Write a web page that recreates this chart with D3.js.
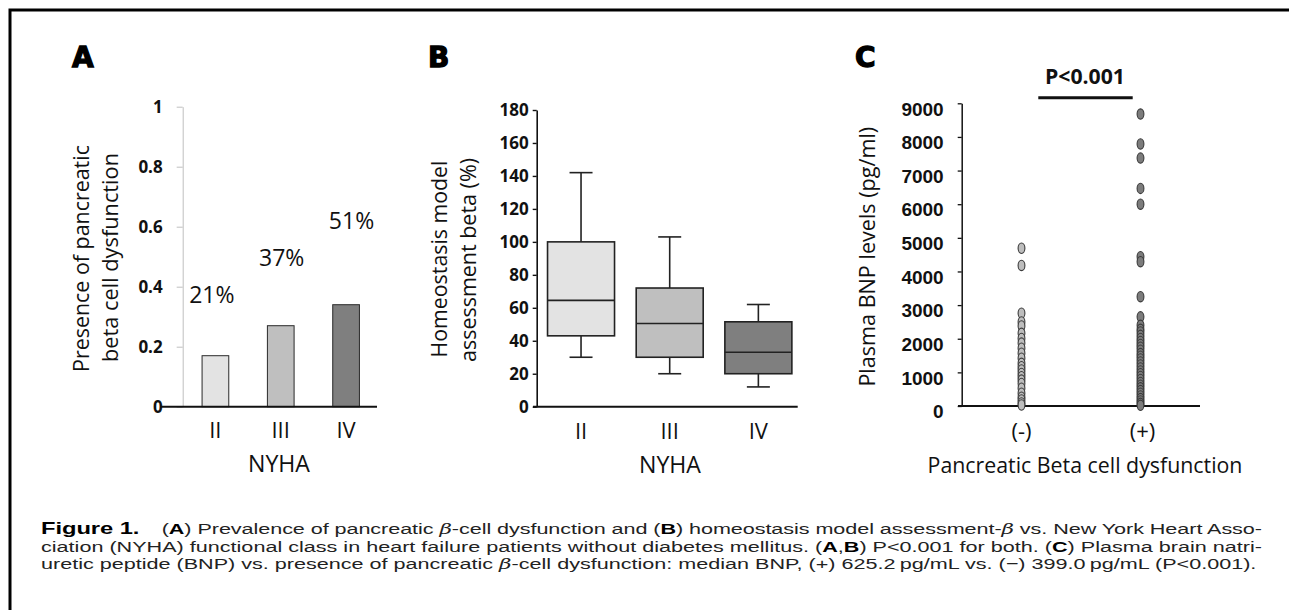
<!DOCTYPE html>
<html><head><meta charset="utf-8">
<script src="https://cdn.jsdelivr.net/npm/d3@7/dist/d3.min.js"></script>
<style>body{margin:0;background:#fff}svg{display:block}</style>
</head><body>
<svg id="c" width="1289" height="610"></svg>
<script>
// ---------------- data ----------------
const nyhaClasses = ["II", "III", "IV"];
const dysfunctionPresence = [0.17, 0.27, 0.34];
const dysfunctionPctLabels = ["21%", "37%", "51%"];
const presenceTicks = [0, 0.2, 0.4, 0.6, 0.8, 1];

const homaWhiskerLow = [30, 20, 12];
const homaQ1 = [43, 30, 20];
const homaMedian = [64.5, 50.5, 33];
const homaQ3 = [100, 72, 51.5];
const homaWhiskerHigh = [142, 103, 62];
const homaTicks = [0, 20, 40, 60, 80, 100, 120, 140, 160, 180];

const bnpGroups = ["(-)", "(+)"];
const bnpNegative = [4690, 4180, 2760, 2500, 2380, 2160, 2010, 1870, 1720, 1570, 1420, 1270, 1170, 1070, 970, 870, 770, 670, 530, 380, 260, 180, 90, 30];
const bnpPositive = [8680, 7790, 7370, 6470, 6000, 4440, 4290, 3250, 2650, 2400, 2280, 2200, 2100, 2010, 1920, 1830, 1750, 1660, 1560, 1480, 1400, 1310, 1220, 1130, 1040, 960, 880, 790, 700, 620, 540, 460, 380, 300, 220, 150, 80, 20];
const bnpTicks = [0, 1000, 2000, 3000, 4000, 5000, 6000, 7000, 8000, 9000];

// ---------------- styles ----------------
const classFills = ["#e3e3e3", "#bfbfbf", "#7f7f7f"];
const groupFills = ["#bdbdbd", "#7c7c7c"];
const FONT = "'Open Sans', 'Noto Sans', sans-serif";
const NARROW = "'Liberation Sans Narrow', 'Liberation Sans', Arial, sans-serif";
const LETTER = "'DejaVu Sans', 'Liberation Sans', sans-serif";
const pctLabelAt = [0.345, 0.47, 0.593]; // annotation anchor heights (value space)

const svg = d3.select("#c");

function fit(sel, target) {
  const w = sel.node().getComputedTextLength();
  const fs = parseFloat(sel.attr("font-size"));
  sel.attr("font-size", (fs * target / w).toFixed(2));
  return sel;
}

// frame
svg.append("path").attr("d", "M10,610V10H1289").attr("fill", "none")
  .attr("stroke", "#000").attr("stroke-width", 3);

// panel letters
[["A", 72], ["B", 428], ["C", 855]].forEach(([t, x]) => {
  svg.append("text").attr("x", x).attr("y", 67).text(t)
    .attr("font-family", LETTER).attr("font-weight", "bold").attr("font-size", 28)
    .attr("stroke", "#000").attr("stroke-width", 1.3).attr("fill", "#000");
});

// ================= Panel A =================
const yA = d3.scaleLinear().domain([0, 1]).range([406.7, 106.7]);
const xA = d3.scalePoint().domain(nyhaClasses).range([182.7, 378.7]).padding(0.5);
const gA = svg.append("g");
const axA = gA.append("g").attr("transform", "translate(182.7,0)")
  .call(d3.axisLeft(yA).tickValues(presenceTicks).tickSize(6).tickSizeOuter(0).tickPadding(14)
    .tickFormat(d => (d === 0 || d === 1) ? String(d) : d3.format(".1f")(d)));
axA.select(".domain").attr("stroke", "#bfbfbf").attr("stroke-width", 1);
axA.selectAll(".tick line").attr("stroke", "#bfbfbf");
axA.selectAll(".tick text").attr("font-family", FONT).attr("font-weight", "bold")
  .attr("font-size", 17).attr("fill", "#111");

gA.selectAll("rect.bar").data(dysfunctionPresence).join("rect")
  .attr("x", (d, i) => xA(nyhaClasses[i]) - 13.3).attr("width", 26.7)
  .attr("y", d => yA(d)).attr("height", d => yA(0) - yA(d))
  .attr("fill", (d, i) => classFills[i]).attr("stroke", "#2a2a2a").attr("stroke-width", 1);

gA.append("line").attr("x1", 160).attr("x2", 377).attr("y1", yA(0)).attr("y2", yA(0))
  .attr("stroke", "#111").attr("stroke-width", 2);

gA.selectAll("text.pct").data(dysfunctionPctLabels).join("text")
  .attr("x", (d, i) => xA(nyhaClasses[i]) + [-3.5, 1, 5.5][i])
  .attr("y", (d, i) => yA(pctLabelAt[i]))
  .attr("text-anchor", "middle").attr("font-family", FONT).attr("font-size", 23).attr("fill", "#111")
  .text(d => d);

gA.selectAll("text.cat").data(nyhaClasses).join("text")
  .attr("x", d => xA(d)).attr("y", 438).attr("text-anchor", "middle")
  .attr("font-family", FONT).attr("font-size", 22).attr("fill", "#111").text(d => d);
fit(gA.append("text").attr("x", 279).attr("y", 471.5).attr("text-anchor", "middle")
  .attr("font-family", FONT).attr("font-size", 22).attr("fill", "#111").text("NYHA"), 62);

fit(gA.append("text").attr("transform", "translate(80,258.5) rotate(-90)")
  .attr("text-anchor", "middle").attr("dominant-baseline", "central")
  .attr("font-family", FONT).attr("font-size", 20).attr("fill", "#111").text("Presence of pancreatic"), 227);
fit(gA.append("text").attr("transform", "translate(109,257.5) rotate(-90)")
  .attr("text-anchor", "middle").attr("dominant-baseline", "central")
  .attr("font-family", FONT).attr("font-size", 20).attr("fill", "#111").text("beta cell dysfunction"), 209);

// ================= Panel B =================
const yB = d3.scaleLinear().domain([0, 180]).range([406.7, 110]);
const xB = d3.scalePoint().domain(nyhaClasses).range([536.7, 802.7]).padding(0.5);
const gB = svg.append("g");
const axB = gB.append("g").attr("transform", "translate(536.7,0)")
  .call(d3.axisLeft(yB).tickValues(homaTicks).tickSize(4).tickSizeOuter(0).tickPadding(4));
axB.select(".domain").attr("stroke", "#111").attr("stroke-width", 1.6);
axB.selectAll(".tick line").attr("stroke", "#111").attr("stroke-width", 1.4);
axB.selectAll(".tick text").attr("font-family", FONT).attr("font-weight", "bold")
  .attr("font-size", 17).attr("fill", "#111");
gB.append("line").attr("x1", 533).attr("x2", 797.7).attr("y1", yB(0)).attr("y2", yB(0))
  .attr("stroke", "#111").attr("stroke-width", 2);

nyhaClasses.forEach((c, i) => {
  const cx = xB(c), bw = 67, cw = 23;
  const g = gB.append("g").attr("stroke", "#222").attr("stroke-width", 1.6);
  g.append("line").attr("x1", cx).attr("x2", cx).attr("y1", yB(homaWhiskerHigh[i])).attr("y2", yB(homaQ3[i]));
  g.append("line").attr("x1", cx).attr("x2", cx).attr("y1", yB(homaQ1[i])).attr("y2", yB(homaWhiskerLow[i]));
  g.append("line").attr("x1", cx - cw / 2).attr("x2", cx + cw / 2).attr("y1", yB(homaWhiskerHigh[i])).attr("y2", yB(homaWhiskerHigh[i]));
  g.append("line").attr("x1", cx - cw / 2).attr("x2", cx + cw / 2).attr("y1", yB(homaWhiskerLow[i])).attr("y2", yB(homaWhiskerLow[i]));
  g.append("rect").attr("x", cx - bw / 2).attr("width", bw)
    .attr("y", yB(homaQ3[i])).attr("height", yB(homaQ1[i]) - yB(homaQ3[i]))
    .attr("fill", classFills[i]);
  g.append("line").attr("x1", cx - bw / 2).attr("x2", cx + bw / 2).attr("y1", yB(homaMedian[i])).attr("y2", yB(homaMedian[i]));
});

gB.selectAll("text.cat").data(nyhaClasses).join("text")
  .attr("x", d => xB(d)).attr("y", 439).attr("text-anchor", "middle")
  .attr("font-family", FONT).attr("font-size", 22).attr("fill", "#111").text(d => d);
fit(gB.append("text").attr("x", 670).attr("y", 473).attr("text-anchor", "middle")
  .attr("font-family", FONT).attr("font-size", 22).attr("fill", "#111").text("NYHA"), 62);
fit(gB.append("text").attr("transform", "translate(438,259) rotate(-90)")
  .attr("text-anchor", "middle").attr("dominant-baseline", "central")
  .attr("font-family", FONT).attr("font-size", 20).attr("fill", "#111").text("Homeostasis model"), 197);
fit(gB.append("text").attr("transform", "translate(467,260) rotate(-90)")
  .attr("text-anchor", "middle").attr("dominant-baseline", "central")
  .attr("font-family", FONT).attr("font-size", 20).attr("fill", "#111").text("assessment beta (%)"), 204);

// ================= Panel C =================
const yC = d3.scaleLinear().domain([0, 9000]).range([406, 103.3]);
const xC = d3.scalePoint().domain(bnpGroups).range([962, 1200]).padding(0.5);
const gC = svg.append("g");
const axC = gC.append("g").attr("transform", "translate(961.7,0)")
  .call(d3.axisLeft(yC).tickValues(bnpTicks).tickSize(4).tickSizeOuter(0).tickPadding(14).tickFormat(d3.format("d")));
axC.select(".domain").attr("stroke", "#111").attr("stroke-width", 1.5);
axC.selectAll(".tick line").attr("stroke", "#111").attr("stroke-width", 1.3);
axC.selectAll(".tick text").attr("font-family", NARROW).attr("font-weight", "bold")
  .attr("font-size", 19).attr("fill", "#111").attr("dy", "0.62em");
gC.append("line").attr("x1", 958).attr("x2", 1200).attr("y1", yC(0)).attr("y2", yC(0))
  .attr("stroke", "#111").attr("stroke-width", 2);

[bnpNegative, bnpPositive].forEach((vals, gi) => {
  gC.append("g").selectAll("ellipse").data(vals).join("ellipse")
    .attr("cx", xC(bnpGroups[gi])).attr("cy", d => yC(d))
    .attr("rx", 3.4).attr("ry", 5.2)
    .attr("fill", groupFills[gi]).attr("stroke", "#3a3a3a").attr("stroke-width", 1.1);
});

gC.append("line").attr("x1", 1038.3).attr("x2", 1132.7).attr("y1", 97.7).attr("y2", 97.7)
  .attr("stroke", "#111").attr("stroke-width", 3);
fit(gC.append("text").attr("x", 1085).attr("y", 83.5).attr("text-anchor", "middle")
  .attr("font-family", FONT).attr("font-weight", "bold").attr("font-size", 20).attr("fill", "#111").text("P<0.001"), 80);

gC.selectAll("text.cat").data(bnpGroups).join("text")
  .attr("x", (d, i) => xC(d) + (i ? 2 : 0)).attr("y", 439).attr("text-anchor", "middle")
  .attr("font-family", FONT).attr("font-size", 22).attr("fill", "#111").text(d => d);
fit(gC.append("text").attr("x", 1085).attr("y", 473).attr("text-anchor", "middle")
  .attr("font-family", FONT).attr("font-size", 22).attr("fill", "#111").text("Pancreatic Beta cell dysfunction"), 315);
fit(gC.append("text").attr("transform", "translate(866,256.7) rotate(-90)")
  .attr("text-anchor", "middle").attr("dominant-baseline", "central")
  .attr("font-family", FONT).attr("font-size", 20).attr("fill", "#111").text("Plasma BNP levels (pg/ml)"), 260);

// ================= Caption =================
const capLines = [
  [["Figure 1.", "fig"], ["(", "", 16], ["A", "b"], [") Prevalence of pancreatic ", ""], ["β", "i"], ["-cell dysfunction and (", ""], ["B", "b"], [") homeostasis model assessment-", ""], ["β", "i"], [" vs. New York Heart Asso-", ""]],
  [["ciation (NYHA) functional class in heart failure patients without diabetes mellitus. (", ""], ["A", "b"], [",", ""], ["B", "b"], [") P<0.001 for both. (", ""], ["C", "b"], [") Plasma brain natri-", ""]],
  [["uretic peptide (BNP) vs. presence of pancreatic ", ""], ["β", "i"], ["-cell dysfunction: median BNP, (+) 625.2\u2009pg/mL vs. (\u2212) 399.0\u2009pg/mL (P<0.001).", ""]]
];
const capWidths = [1221, 1221, 1216];
const capBase = [534, 551.5, 569];
const CAP_FS = 15.5;
const capTexts = capLines.map((parts, li) => {
  const t = svg.append("text").attr("x", 0).attr("y", 0)
    .attr("font-family", "'Liberation Sans', Arial, sans-serif").attr("font-size", CAP_FS)
    .attr("fill", "#222").style("white-space", "pre");
  parts.forEach(([s, k, dx]) => {
    const ts = t.append("tspan").text(s);
    if (dx) ts.attr("dx", dx);
    if (k === "b") ts.attr("font-weight", "bold").attr("fill", "#000");
    if (k === "i") ts.attr("font-style", "italic").attr("font-family", "'DejaVu Serif', serif");
    if (k === "fig") ts.attr("font-weight", "bold").attr("font-family", NARROW).attr("fill", "#000").style("font-size", "1.1em");
  });
  return t;
});
// horizontal scale so that the final (unjustified) line has its natural width; justify the others
const natural = capTexts[2].node().getComputedTextLength();
const sx = capWidths[2] / natural;
capTexts.forEach((t, li) => {
  t.attr("transform", `translate(41,${capBase[li]}) scale(${sx.toFixed(4)},1)`);
  if (li < 2) t.attr("textLength", (capWidths[li] / sx).toFixed(1)).attr("lengthAdjust", "spacing");
});
</script>
</body></html>
